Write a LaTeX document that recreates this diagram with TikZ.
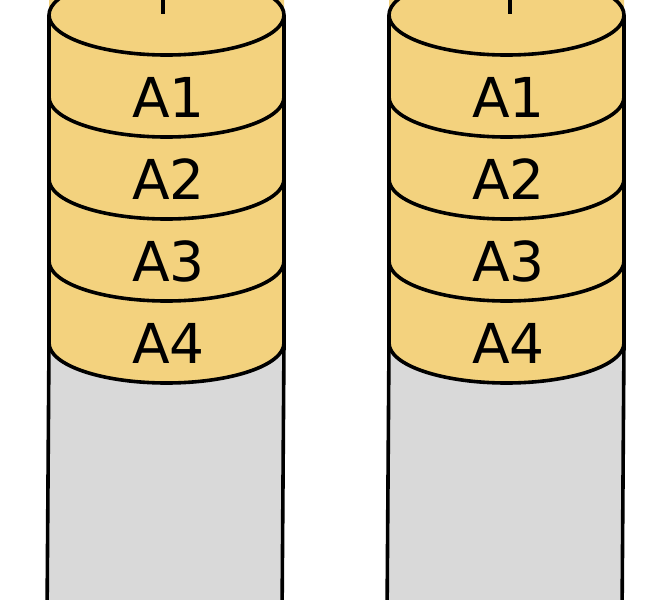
\documentclass[tikz,border=0pt]{standalone}
\usepackage{fontspec}
\setmainfont{DejaVu Sans}
\definecolor{diskyellow}{RGB}{243,210,126}
\definecolor{diskgrey}{RGB}{217,217,217}
\tikzset{
  outline/.style={line width=3.6pt, draw=black, line join=round},
  blocklabel/.style={font=\fontsize{55}{55}\selectfont, inner sep=0pt, anchor=center}
}
\begin{document}
\begin{tikzpicture}[x=1pt,y=-1pt]
\useasboundingbox (0,0) rectangle (665,600);
\clip (0,0) rectangle (665,600);
\foreach \cx/\nm/\tx in {166.5/l/163, 506.5/r/510}{
  % grey empty part
  \fill[diskgrey] (\cx-117.5,343) -- (\cx-119.5,620) -- (\cx+115.5,620) -- (\cx+117.5,343) -- cycle;
  \draw[outline] (\cx-117.5,343) -- (\cx-119.5,620);
  \draw[outline] (\cx+117.5,343) -- (\cx+115.5,620);
  % yellow stack
  \fill[diskyellow] (\cx-117.5,-40) -- (\cx-117.5,343) arc[start angle=180,end angle=0,x radius=117.5,y radius=40] -- (\cx+117.5,-40) -- cycle;
  \draw[outline] (\cx-117.5,15) -- (\cx-117.5,343);
  \draw[outline] (\cx+117.5,15) -- (\cx+117.5,343);
  \draw[outline, fill=diskyellow] (\cx,15) ellipse[x radius=117.5,y radius=40];
  \foreach \yy in {97,179,261,343}{
    \draw[outline] (\cx-117.5,\yy) arc[start angle=180,end angle=0,x radius=117.5,y radius=40];
  }
  \draw[line width=3.6pt] (\tx,-2) -- (\tx,14);
  \node[blocklabel] (A1\nm) at (\cx+2,97) {A1};
  \node[blocklabel] (A2\nm) at (\cx+2,179) {A2};
  \node[blocklabel] (A3\nm) at (\cx+2,261) {A3};
  \node[blocklabel] (A4\nm) at (\cx+2,343) {A4};
}
\end{tikzpicture}
\end{document}
